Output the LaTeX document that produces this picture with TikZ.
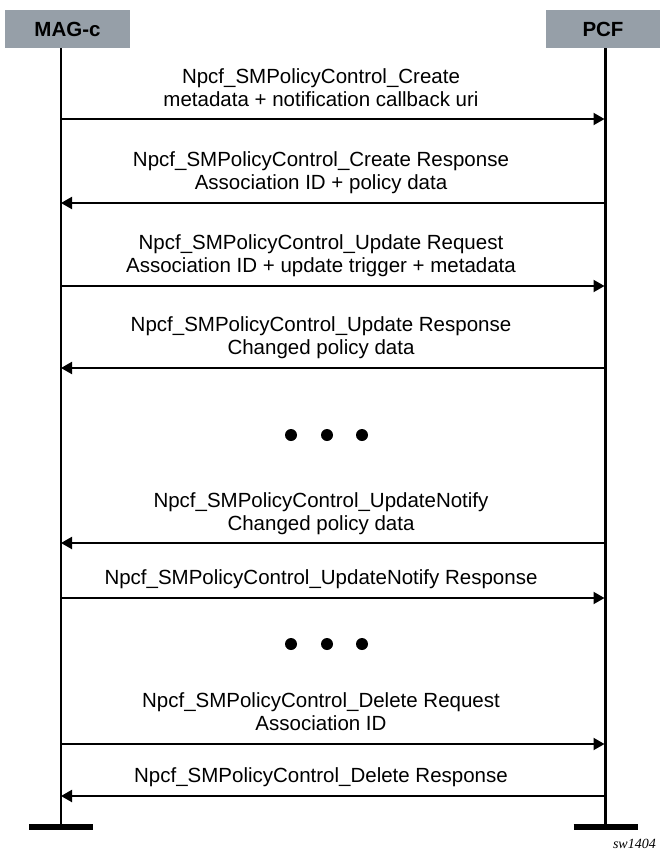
\documentclass[tikz,border=0pt]{standalone}
\usepackage{fontspec}
\setmainfont{Liberation Sans}
\newfontfamily\tagfont{Liberation Serif}
\usetikzlibrary{arrows.meta}
\definecolor{hdrgray}{RGB}{150,159,168}
\tikzset{
    header/.style={fill=hdrgray, font=\bfseries\fontsize{20.5}{24}\selectfont, inner sep=0pt, minimum height=38pt},
    msgtext/.style={font=\fontsize{20.5}{23}\selectfont, align=center, inner sep=0pt, anchor=base},
    msg/.style={line width=2pt, -{Triangle[length=11pt,width=12pt]}},
    lifeline/.style={line width=2.5pt},
    endbar/.style={line width=5.5pt},
    dot/.style={circle, fill, inner sep=0pt, minimum size=12pt}
}
\begin{document}
\begin{tikzpicture}[x=1pt,y=-1pt]
    \useasboundingbox (0,0) rectangle (660,852);
    \node[header, minimum width=125pt] (mag) at (67.5,29) {MAG-c};
    \node[header, minimum width=114pt] (pcf) at (603,29) {PCF};
    \coordinate (magtop) at (61,48);
    \coordinate (magend) at (61,827);
    \coordinate (pcftop) at (605.5,48);
    \coordinate (pcfend) at (605.5,827);
    \draw[lifeline] (magtop) -- (magend);
    \draw[lifeline] (pcftop) -- (pcfend);
    \draw[endbar] ([xshift=-32pt]magend) -- ([xshift=32pt]magend);
    \draw[endbar] ([xshift=-32pt]pcfend) -- ([xshift=32pt]pcfend);
    \foreach \y [count=\i] in {119,203,286,368,543,598,744,796} {
        \coordinate (m\i) at (61,\y);
        \coordinate (p\i) at (604.5,\y);
    }
    \draw[msg] (m1) -- (p1);
    \draw[msg] (p2) -- (m2);
    \draw[msg] (m3) -- (p3);
    \draw[msg] (p4) -- (m4);
    \draw[msg] (p5) -- (m5);
    \draw[msg] (m6) -- (p6);
    \draw[msg] (m7) -- (p7);
    \draw[msg] (p8) -- (m8);
    \node[msgtext] (t1) at (321,106) {Npcf\_SMPolicyControl\_Create\\metadata + notification callback uri};
    \node[msgtext] (t2) at (321,189) {Npcf\_SMPolicyControl\_Create Response\\Association ID + policy data};
    \node[msgtext] (t3) at (321,272) {Npcf\_SMPolicyControl\_Update Request\\Association ID + update trigger + metadata};
    \node[msgtext] (t4) at (321,354) {Npcf\_SMPolicyControl\_Update Response\\Changed policy data};
    \node[msgtext] (t5) at (321,530) {Npcf\_SMPolicyControl\_UpdateNotify\\Changed policy data};
    \node[msgtext] (t6) at (321,584) {Npcf\_SMPolicyControl\_UpdateNotify Response};
    \node[msgtext] (t7) at (321,730) {Npcf\_SMPolicyControl\_Delete Request\\Association ID};
    \node[msgtext] (t8) at (321,782) {Npcf\_SMPolicyControl\_Delete Response};
    % dots between the exchanges
    \foreach \x in {291,327,362} {
        \node[dot] (gapa\x) at (\x,435) {};
        \node[dot] (gapb\x) at (\x,644) {};
    }
    \node[font=\tagfont\itshape\fontsize{14}{16}\selectfont, anchor=base east, inner sep=0pt] (tag) at (656,848) {sw1404};
\end{tikzpicture}
\end{document}
